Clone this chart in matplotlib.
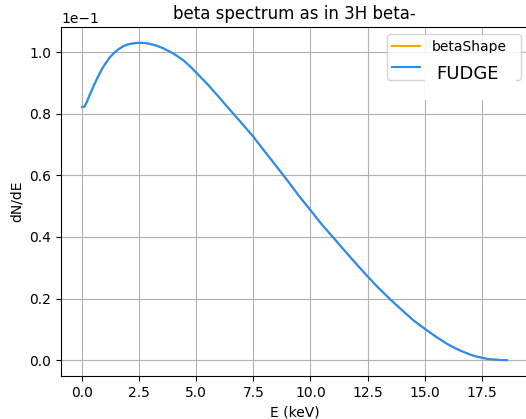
import matplotlib
matplotlib.use("Agg")
import matplotlib.pyplot as plt
from matplotlib.patches import Rectangle

# Energy (keV) and dN/dE values (in units of 1e-1)
energy = [0.0, 0.1, 0.2, 0.3, 0.4, 0.5, 0.6, 0.7, 0.8, 0.9, 1.0, 1.2, 1.4,
          1.6, 1.8, 2.0, 2.2, 2.4, 2.6, 2.8, 3.0, 3.25, 3.5, 3.75, 4.0, 4.25,
          4.5, 4.75, 5.0, 5.5, 6.0, 6.5, 7.0, 7.5, 8.0, 8.5, 9.0, 9.5, 10.0,
          10.5, 11.0, 11.5, 12.0, 12.5, 13.0, 13.5, 14.0, 14.5, 15.0, 15.5,
          16.0, 16.5, 17.0, 17.25, 17.5, 17.75, 18.0, 18.3, 18.6]
dnde_scaled = [0.822, 0.823, 0.838, 0.856, 0.873, 0.890, 0.906, 0.921, 0.936,
               0.949, 0.961, 0.982, 0.998, 1.010, 1.019, 1.025, 1.028, 1.030,
               1.030, 1.029, 1.026, 1.021, 1.014, 1.005, 0.995, 0.983, 0.969,
               0.952, 0.933, 0.895, 0.853, 0.810, 0.768, 0.725, 0.677, 0.630,
               0.582, 0.533, 0.487, 0.440, 0.398, 0.355, 0.313, 0.272, 0.233,
               0.197, 0.163, 0.130, 0.102, 0.076, 0.052, 0.033, 0.018, 0.012,
               0.008, 0.004, 0.002, 0.0005, 0.0]
dnde = [v * 0.1 for v in dnde_scaled]

labels = ["betaShape", "FUDGE"]
colors = ["orange", "dodgerblue"]

fig = plt.figure(figsize=(5.26, 4.19), dpi=100)
ax = fig.add_axes([61 / 526, 43 / 419, (528 - 61) / 526, (376 - 27) / 419])

ax.plot(energy, dnde, color=colors[0], label=labels[0])
ax.plot(energy, dnde, color=colors[1], label=labels[1])

ax.ticklabel_format(axis="y", style="sci", scilimits=(0, 0))
ax.grid(True)
ax.set_title("beta spectrum as in 3H beta-")
ax.set_xlabel("E (keV)")
ax.set_ylabel("dN/dE")

leg = ax.legend(loc="upper right", mode="expand",
                bbox_to_anchor=(0.683, 0.0, 0.317, 1.0))
leg.get_texts()[1].set_visible(False)

# enlarged FUDGE label on a white box, overlapping the legend frame
ax.add_patch(Rectangle((0.779, 0.791), 0.195, 0.135, transform=ax.transAxes,
                       facecolor="white", edgecolor="none", zorder=6,
                       clip_on=False))
ax.text(0.804, 0.851, labels[1], transform=ax.transAxes, fontsize=13,
        va="baseline", ha="left", zorder=7)

fig.savefig("out.png", dpi=100)
